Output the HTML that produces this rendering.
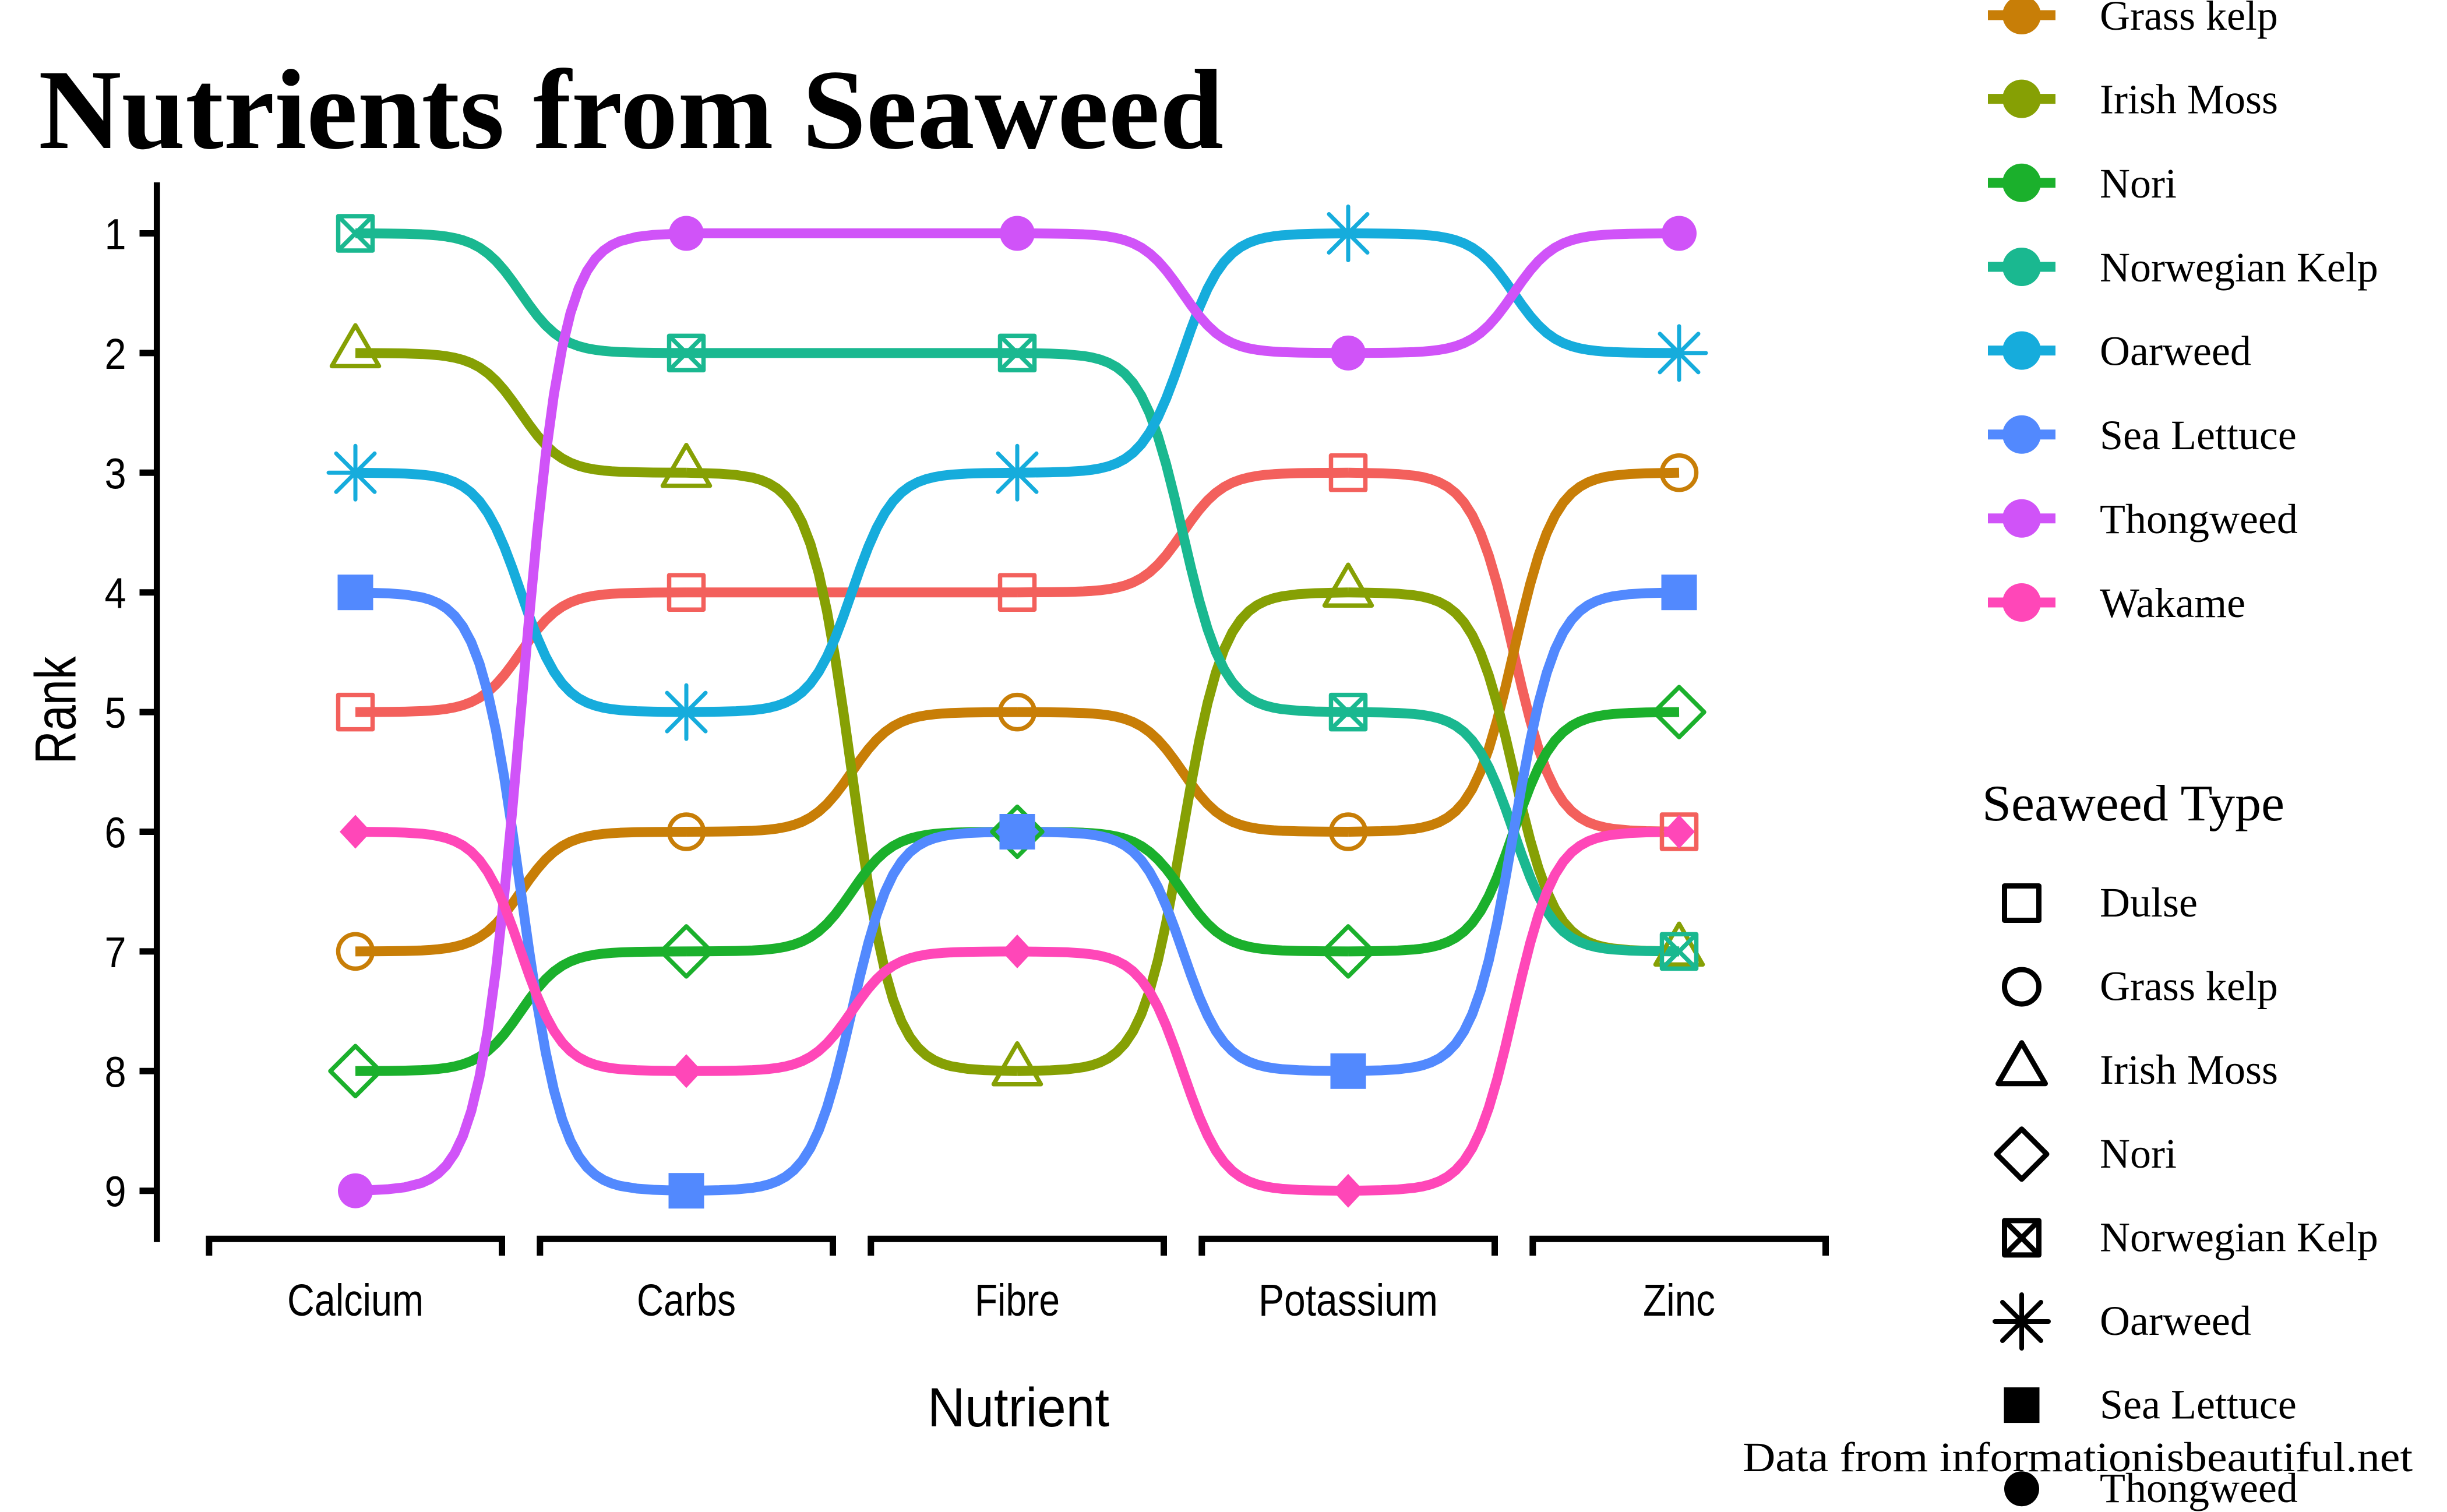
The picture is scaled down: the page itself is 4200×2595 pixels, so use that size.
<!DOCTYPE html>
<html><head><meta charset="utf-8"><style>
html,body{margin:0;padding:0;background:#fff}
svg{display:block}
.s{fill:none;stroke-width:17;vector-effect:non-scaling-stroke;stroke-linejoin:round;stroke-linecap:butt}
.t{font-family:"Liberation Sans",sans-serif;fill:#000}
.r{font-family:"Liberation Serif",serif;fill:#000}
</style></head><body>
<svg width="4200" height="2595" viewBox="0 0 4200 2595" xmlns="http://www.w3.org/2000/svg">
<rect width="4200" height="2595" fill="#fff"/>
<defs>
<g id="m0"><rect x="-29.5" y="-29.5" width="59" height="59" fill="none" stroke-linejoin="round"/></g>
<g id="m1"><circle r="29.5" fill="none"/></g>
<g id="m2"><path d="M0,-47.5L40.5,22.5L-40.5,22.5Z" fill="none" stroke-linejoin="round"/></g>
<g id="m5"><path d="M0,-43L43,0L0,43L-43,0Z" fill="none" stroke-linejoin="round"/></g>
<g id="m7"><rect x="-29.5" y="-29.5" width="59" height="59" fill="none" stroke-linejoin="round"/><path d="M-29.5,-29.5L29.5,29.5M29.5,-29.5L-29.5,29.5" fill="none"/></g>
<g id="m8"><path d="M0,-46V46M-46,0H46M-33,-33L33,33M33,-33L-33,33" fill="none" stroke-linecap="round"/></g>
<g id="m15"><rect x="-30.5" y="-30.5" width="61" height="61" stroke="none"/></g>
<g id="m16"><circle r="30" stroke="none"/></g>
<g id="m18"><path d="M0,-29L27,0L0,29L-27,0Z" stroke="none"/></g>
</defs>

<!-- Title -->
<text class="r" x="66" y="254" font-weight="bold" font-size="196" textLength="2034" lengthAdjust="spacingAndGlyphs">Nutrients from Seaweed</text>

<!-- Y axis -->
<g stroke="#000" fill="none">
<path d="M269.3,313V2131.7" stroke-width="10.7"/>
<path d="M239.5,400.5H269M239.5,605.9H269M239.5,811.3H269M239.5,1016.7H269M239.5,1222.1H269M239.5,1427.5H269M239.5,1632.9H269M239.5,1838.3H269M239.5,2043.7H269" stroke-width="11"/>
<path d="M358.8,2155V2126.2H861.5V2155M926.8,2155V2126.2H1429.5V2155M1494.8,2155V2126.2H1997.5V2155M2062.8,2155V2126.2H2565.5V2155M2630.8,2155V2126.2H3133.5V2155" stroke-width="11" stroke-linejoin="miter"/>
</g>
<g transform="translate(198,0) scale(0.9,1)" class="t" font-size="74" text-anchor="middle">
<text x="0" y="427.5">1</text><text x="0" y="632.9">2</text><text x="0" y="838.3">3</text>
<text x="0" y="1043.7">4</text><text x="0" y="1249.1">5</text><text x="0" y="1454.5">6</text>
<text x="0" y="1659.9">7</text><text x="0" y="1865.3">8</text><text x="0" y="2070.7">9</text>
</g>
<text class="t" transform="translate(129.3,1219) rotate(-90)" x="-92.5" y="0" font-size="99" textLength="185" lengthAdjust="spacingAndGlyphs">Rank</text>

<!-- X labels -->
<g class="t" font-size="77">
<text x="493" y="2258" textLength="234" lengthAdjust="spacingAndGlyphs">Calcium</text>
<text x="1093" y="2258" textLength="170" lengthAdjust="spacingAndGlyphs">Carbs</text>
<text x="1673" y="2258" textLength="146" lengthAdjust="spacingAndGlyphs">Fibre</text>
<text x="2160" y="2258" textLength="308" lengthAdjust="spacingAndGlyphs">Potassium</text>
<text x="2820" y="2258" textLength="124" lengthAdjust="spacingAndGlyphs">Zinc</text>
</g>
<text class="t" x="1592" y="2448" font-size="95" textLength="312" lengthAdjust="spacingAndGlyphs">Nutrient</text>

<!-- Lines -->
<g stroke="#F3605C">
<path class="s" transform="translate(610,1222.1) scale(1,-205.4)" d="M0,0L28.4,.00075L56.8,.00166L85.2,.00368L113.6,.00816L127.8,.01213L142,.018L156.2,.0266L170.4,.0392L184.6,.05734L198.8,.0832L213,.1192L227.2,.168L241.4,.2315L255.6,.31L269.8,.4013L284,.5L298.2,.5987L312.4,.69L326.6,.7685L340.8,.832L355,.8808L369.2,.9168L383.4,.94266L397.6,.9608L411.8,.9734L426,.982L440.2,.98787L454.4,.99184L482.8,.99632L511.2,.99834L539.6,.99925L568,1"/>
<path class="s" d="M1178,1016.7H1746"/>
<path class="s" transform="translate(1746,1016.7) scale(1,-205.4)" d="M0,0L28.4,.00075L56.8,.00166L85.2,.00368L113.6,.00816L127.8,.01213L142,.018L156.2,.0266L170.4,.0392L184.6,.05734L198.8,.0832L213,.1192L227.2,.168L241.4,.2315L255.6,.31L269.8,.4013L284,.5L298.2,.5987L312.4,.69L326.6,.7685L340.8,.832L355,.8808L369.2,.9168L383.4,.94266L397.6,.9608L411.8,.9734L426,.982L440.2,.98787L454.4,.99184L482.8,.99632L511.2,.99834L539.6,.99925L568,1"/>
<path class="s" transform="translate(2314,811.3) scale(1,616.2)" d="M0,0L28.4,.00075L56.8,.00166L85.2,.00368L113.6,.00816L127.8,.01213L142,.018L156.2,.0266L170.4,.0392L184.6,.05734L198.8,.0832L213,.1192L227.2,.168L241.4,.2315L255.6,.31L269.8,.4013L284,.5L298.2,.5987L312.4,.69L326.6,.7685L340.8,.832L355,.8808L369.2,.9168L383.4,.94266L397.6,.9608L411.8,.9734L426,.982L440.2,.98787L454.4,.99184L482.8,.99632L511.2,.99834L539.6,.99925L568,1"/>
</g>
<g stroke="#C87E07">
<path class="s" transform="translate(610,1632.9) scale(1,-205.4)" d="M0,0L28.4,.00075L56.8,.00166L85.2,.00368L113.6,.00816L127.8,.01213L142,.018L156.2,.0266L170.4,.0392L184.6,.05734L198.8,.0832L213,.1192L227.2,.168L241.4,.2315L255.6,.31L269.8,.4013L284,.5L298.2,.5987L312.4,.69L326.6,.7685L340.8,.832L355,.8808L369.2,.9168L383.4,.94266L397.6,.9608L411.8,.9734L426,.982L440.2,.98787L454.4,.99184L482.8,.99632L511.2,.99834L539.6,.99925L568,1"/>
<path class="s" transform="translate(1178,1427.5) scale(1,-205.4)" d="M0,0L28.4,.00075L56.8,.00166L85.2,.00368L113.6,.00816L127.8,.01213L142,.018L156.2,.0266L170.4,.0392L184.6,.05734L198.8,.0832L213,.1192L227.2,.168L241.4,.2315L255.6,.31L269.8,.4013L284,.5L298.2,.5987L312.4,.69L326.6,.7685L340.8,.832L355,.8808L369.2,.9168L383.4,.94266L397.6,.9608L411.8,.9734L426,.982L440.2,.98787L454.4,.99184L482.8,.99632L511.2,.99834L539.6,.99925L568,1"/>
<path class="s" transform="translate(1746,1222.1) scale(1,205.4)" d="M0,0L28.4,.00075L56.8,.00166L85.2,.00368L113.6,.00816L127.8,.01213L142,.018L156.2,.0266L170.4,.0392L184.6,.05734L198.8,.0832L213,.1192L227.2,.168L241.4,.2315L255.6,.31L269.8,.4013L284,.5L298.2,.5987L312.4,.69L326.6,.7685L340.8,.832L355,.8808L369.2,.9168L383.4,.94266L397.6,.9608L411.8,.9734L426,.982L440.2,.98787L454.4,.99184L482.8,.99632L511.2,.99834L539.6,.99925L568,1"/>
<path class="s" transform="translate(2314,1427.5) scale(1,-616.2)" d="M0,0L28.4,.00075L56.8,.00166L85.2,.00368L113.6,.00816L127.8,.01213L142,.018L156.2,.0266L170.4,.0392L184.6,.05734L198.8,.0832L213,.1192L227.2,.168L241.4,.2315L255.6,.31L269.8,.4013L284,.5L298.2,.5987L312.4,.69L326.6,.7685L340.8,.832L355,.8808L369.2,.9168L383.4,.94266L397.6,.9608L411.8,.9734L426,.982L440.2,.98787L454.4,.99184L482.8,.99632L511.2,.99834L539.6,.99925L568,1"/>
</g>
<g stroke="#86A004">
<path class="s" transform="translate(610,605.9) scale(1,205.4)" d="M0,0L28.4,.00075L56.8,.00166L85.2,.00368L113.6,.00816L127.8,.01213L142,.018L156.2,.0266L170.4,.0392L184.6,.05734L198.8,.0832L213,.1192L227.2,.168L241.4,.2315L255.6,.31L269.8,.4013L284,.5L298.2,.5987L312.4,.69L326.6,.7685L340.8,.832L355,.8808L369.2,.9168L383.4,.94266L397.6,.9608L411.8,.9734L426,.982L440.2,.98787L454.4,.99184L482.8,.99632L511.2,.99834L539.6,.99925L568,1"/>
<path class="s" transform="translate(1178,811.3) scale(1,1027)" d="M0,0L28.4,.00075L56.8,.00166L85.2,.00368L113.6,.00816L127.8,.01213L142,.018L156.2,.0266L170.4,.0392L184.6,.05734L198.8,.0832L213,.1192L227.2,.168L241.4,.2315L255.6,.31L269.8,.4013L284,.5L298.2,.5987L312.4,.69L326.6,.7685L340.8,.832L355,.8808L369.2,.9168L383.4,.94266L397.6,.9608L411.8,.9734L426,.982L440.2,.98787L454.4,.99184L482.8,.99632L511.2,.99834L539.6,.99925L568,1"/>
<path class="s" transform="translate(1746,1838.3) scale(1,-821.6)" d="M0,0L28.4,.00075L56.8,.00166L85.2,.00368L113.6,.00816L127.8,.01213L142,.018L156.2,.0266L170.4,.0392L184.6,.05734L198.8,.0832L213,.1192L227.2,.168L241.4,.2315L255.6,.31L269.8,.4013L284,.5L298.2,.5987L312.4,.69L326.6,.7685L340.8,.832L355,.8808L369.2,.9168L383.4,.94266L397.6,.9608L411.8,.9734L426,.982L440.2,.98787L454.4,.99184L482.8,.99632L511.2,.99834L539.6,.99925L568,1"/>
<path class="s" transform="translate(2314,1016.7) scale(1,616.2)" d="M0,0L28.4,.00075L56.8,.00166L85.2,.00368L113.6,.00816L127.8,.01213L142,.018L156.2,.0266L170.4,.0392L184.6,.05734L198.8,.0832L213,.1192L227.2,.168L241.4,.2315L255.6,.31L269.8,.4013L284,.5L298.2,.5987L312.4,.69L326.6,.7685L340.8,.832L355,.8808L369.2,.9168L383.4,.94266L397.6,.9608L411.8,.9734L426,.982L440.2,.98787L454.4,.99184L482.8,.99632L511.2,.99834L539.6,.99925L568,1"/>
</g>
<g stroke="#1BB02C">
<path class="s" transform="translate(610,1838.3) scale(1,-205.4)" d="M0,0L28.4,.00075L56.8,.00166L85.2,.00368L113.6,.00816L127.8,.01213L142,.018L156.2,.0266L170.4,.0392L184.6,.05734L198.8,.0832L213,.1192L227.2,.168L241.4,.2315L255.6,.31L269.8,.4013L284,.5L298.2,.5987L312.4,.69L326.6,.7685L340.8,.832L355,.8808L369.2,.9168L383.4,.94266L397.6,.9608L411.8,.9734L426,.982L440.2,.98787L454.4,.99184L482.8,.99632L511.2,.99834L539.6,.99925L568,1"/>
<path class="s" transform="translate(1178,1632.9) scale(1,-205.4)" d="M0,0L28.4,.00075L56.8,.00166L85.2,.00368L113.6,.00816L127.8,.01213L142,.018L156.2,.0266L170.4,.0392L184.6,.05734L198.8,.0832L213,.1192L227.2,.168L241.4,.2315L255.6,.31L269.8,.4013L284,.5L298.2,.5987L312.4,.69L326.6,.7685L340.8,.832L355,.8808L369.2,.9168L383.4,.94266L397.6,.9608L411.8,.9734L426,.982L440.2,.98787L454.4,.99184L482.8,.99632L511.2,.99834L539.6,.99925L568,1"/>
<path class="s" transform="translate(1746,1427.5) scale(1,205.4)" d="M0,0L28.4,.00075L56.8,.00166L85.2,.00368L113.6,.00816L127.8,.01213L142,.018L156.2,.0266L170.4,.0392L184.6,.05734L198.8,.0832L213,.1192L227.2,.168L241.4,.2315L255.6,.31L269.8,.4013L284,.5L298.2,.5987L312.4,.69L326.6,.7685L340.8,.832L355,.8808L369.2,.9168L383.4,.94266L397.6,.9608L411.8,.9734L426,.982L440.2,.98787L454.4,.99184L482.8,.99632L511.2,.99834L539.6,.99925L568,1"/>
<path class="s" transform="translate(2314,1632.9) scale(1,-410.8)" d="M0,0L28.4,.00075L56.8,.00166L85.2,.00368L113.6,.00816L127.8,.01213L142,.018L156.2,.0266L170.4,.0392L184.6,.05734L198.8,.0832L213,.1192L227.2,.168L241.4,.2315L255.6,.31L269.8,.4013L284,.5L298.2,.5987L312.4,.69L326.6,.7685L340.8,.832L355,.8808L369.2,.9168L383.4,.94266L397.6,.9608L411.8,.9734L426,.982L440.2,.98787L454.4,.99184L482.8,.99632L511.2,.99834L539.6,.99925L568,1"/>
</g>
<g stroke="#1AB890">
<path class="s" transform="translate(610,400.5) scale(1,205.4)" d="M0,0L28.4,.00075L56.8,.00166L85.2,.00368L113.6,.00816L127.8,.01213L142,.018L156.2,.0266L170.4,.0392L184.6,.05734L198.8,.0832L213,.1192L227.2,.168L241.4,.2315L255.6,.31L269.8,.4013L284,.5L298.2,.5987L312.4,.69L326.6,.7685L340.8,.832L355,.8808L369.2,.9168L383.4,.94266L397.6,.9608L411.8,.9734L426,.982L440.2,.98787L454.4,.99184L482.8,.99632L511.2,.99834L539.6,.99925L568,1"/>
<path class="s" d="M1178,605.9H1746"/>
<path class="s" transform="translate(1746,605.9) scale(1,616.2)" d="M0,0L28.4,.00075L56.8,.00166L85.2,.00368L113.6,.00816L127.8,.01213L142,.018L156.2,.0266L170.4,.0392L184.6,.05734L198.8,.0832L213,.1192L227.2,.168L241.4,.2315L255.6,.31L269.8,.4013L284,.5L298.2,.5987L312.4,.69L326.6,.7685L340.8,.832L355,.8808L369.2,.9168L383.4,.94266L397.6,.9608L411.8,.9734L426,.982L440.2,.98787L454.4,.99184L482.8,.99632L511.2,.99834L539.6,.99925L568,1"/>
<path class="s" transform="translate(2314,1222.1) scale(1,410.8)" d="M0,0L28.4,.00075L56.8,.00166L85.2,.00368L113.6,.00816L127.8,.01213L142,.018L156.2,.0266L170.4,.0392L184.6,.05734L198.8,.0832L213,.1192L227.2,.168L241.4,.2315L255.6,.31L269.8,.4013L284,.5L298.2,.5987L312.4,.69L326.6,.7685L340.8,.832L355,.8808L369.2,.9168L383.4,.94266L397.6,.9608L411.8,.9734L426,.982L440.2,.98787L454.4,.99184L482.8,.99632L511.2,.99834L539.6,.99925L568,1"/>
</g>
<g stroke="#16ACDC">
<path class="s" transform="translate(610,811.3) scale(1,410.8)" d="M0,0L28.4,.00075L56.8,.00166L85.2,.00368L113.6,.00816L127.8,.01213L142,.018L156.2,.0266L170.4,.0392L184.6,.05734L198.8,.0832L213,.1192L227.2,.168L241.4,.2315L255.6,.31L269.8,.4013L284,.5L298.2,.5987L312.4,.69L326.6,.7685L340.8,.832L355,.8808L369.2,.9168L383.4,.94266L397.6,.9608L411.8,.9734L426,.982L440.2,.98787L454.4,.99184L482.8,.99632L511.2,.99834L539.6,.99925L568,1"/>
<path class="s" transform="translate(1178,1222.1) scale(1,-410.8)" d="M0,0L28.4,.00075L56.8,.00166L85.2,.00368L113.6,.00816L127.8,.01213L142,.018L156.2,.0266L170.4,.0392L184.6,.05734L198.8,.0832L213,.1192L227.2,.168L241.4,.2315L255.6,.31L269.8,.4013L284,.5L298.2,.5987L312.4,.69L326.6,.7685L340.8,.832L355,.8808L369.2,.9168L383.4,.94266L397.6,.9608L411.8,.9734L426,.982L440.2,.98787L454.4,.99184L482.8,.99632L511.2,.99834L539.6,.99925L568,1"/>
<path class="s" transform="translate(1746,811.3) scale(1,-410.8)" d="M0,0L28.4,.00075L56.8,.00166L85.2,.00368L113.6,.00816L127.8,.01213L142,.018L156.2,.0266L170.4,.0392L184.6,.05734L198.8,.0832L213,.1192L227.2,.168L241.4,.2315L255.6,.31L269.8,.4013L284,.5L298.2,.5987L312.4,.69L326.6,.7685L340.8,.832L355,.8808L369.2,.9168L383.4,.94266L397.6,.9608L411.8,.9734L426,.982L440.2,.98787L454.4,.99184L482.8,.99632L511.2,.99834L539.6,.99925L568,1"/>
<path class="s" transform="translate(2314,400.5) scale(1,205.4)" d="M0,0L28.4,.00075L56.8,.00166L85.2,.00368L113.6,.00816L127.8,.01213L142,.018L156.2,.0266L170.4,.0392L184.6,.05734L198.8,.0832L213,.1192L227.2,.168L241.4,.2315L255.6,.31L269.8,.4013L284,.5L298.2,.5987L312.4,.69L326.6,.7685L340.8,.832L355,.8808L369.2,.9168L383.4,.94266L397.6,.9608L411.8,.9734L426,.982L440.2,.98787L454.4,.99184L482.8,.99632L511.2,.99834L539.6,.99925L568,1"/>
</g>
<g stroke="#5289FE">
<path class="s" transform="translate(610,1016.7) scale(1,1027)" d="M0,0L28.4,.00075L56.8,.00166L85.2,.00368L113.6,.00816L127.8,.01213L142,.018L156.2,.0266L170.4,.0392L184.6,.05734L198.8,.0832L213,.1192L227.2,.168L241.4,.2315L255.6,.31L269.8,.4013L284,.5L298.2,.5987L312.4,.69L326.6,.7685L340.8,.832L355,.8808L369.2,.9168L383.4,.94266L397.6,.9608L411.8,.9734L426,.982L440.2,.98787L454.4,.99184L482.8,.99632L511.2,.99834L539.6,.99925L568,1"/>
<path class="s" transform="translate(1178,2043.7) scale(1,-616.2)" d="M0,0L28.4,.00075L56.8,.00166L85.2,.00368L113.6,.00816L127.8,.01213L142,.018L156.2,.0266L170.4,.0392L184.6,.05734L198.8,.0832L213,.1192L227.2,.168L241.4,.2315L255.6,.31L269.8,.4013L284,.5L298.2,.5987L312.4,.69L326.6,.7685L340.8,.832L355,.8808L369.2,.9168L383.4,.94266L397.6,.9608L411.8,.9734L426,.982L440.2,.98787L454.4,.99184L482.8,.99632L511.2,.99834L539.6,.99925L568,1"/>
<path class="s" transform="translate(1746,1427.5) scale(1,410.8)" d="M0,0L28.4,.00075L56.8,.00166L85.2,.00368L113.6,.00816L127.8,.01213L142,.018L156.2,.0266L170.4,.0392L184.6,.05734L198.8,.0832L213,.1192L227.2,.168L241.4,.2315L255.6,.31L269.8,.4013L284,.5L298.2,.5987L312.4,.69L326.6,.7685L340.8,.832L355,.8808L369.2,.9168L383.4,.94266L397.6,.9608L411.8,.9734L426,.982L440.2,.98787L454.4,.99184L482.8,.99632L511.2,.99834L539.6,.99925L568,1"/>
<path class="s" transform="translate(2314,1838.3) scale(1,-821.6)" d="M0,0L28.4,.00075L56.8,.00166L85.2,.00368L113.6,.00816L127.8,.01213L142,.018L156.2,.0266L170.4,.0392L184.6,.05734L198.8,.0832L213,.1192L227.2,.168L241.4,.2315L255.6,.31L269.8,.4013L284,.5L298.2,.5987L312.4,.69L326.6,.7685L340.8,.832L355,.8808L369.2,.9168L383.4,.94266L397.6,.9608L411.8,.9734L426,.982L440.2,.98787L454.4,.99184L482.8,.99632L511.2,.99834L539.6,.99925L568,1"/>
</g>
<g stroke="#D053F8">
<path class="s" transform="translate(610,2043.7) scale(1,-1643.2)" d="M0,0L28.4,.00075L56.8,.00166L85.2,.00368L113.6,.00816L127.8,.01213L142,.018L156.2,.0266L170.4,.0392L184.6,.05734L198.8,.0832L213,.1192L227.2,.168L241.4,.2315L255.6,.31L269.8,.4013L284,.5L298.2,.5987L312.4,.69L326.6,.7685L340.8,.832L355,.8808L369.2,.9168L383.4,.94266L397.6,.9608L411.8,.9734L426,.982L440.2,.98787L454.4,.99184L482.8,.99632L511.2,.99834L539.6,.99925L568,1"/>
<path class="s" d="M1178,400.5H1746"/>
<path class="s" transform="translate(1746,400.5) scale(1,205.4)" d="M0,0L28.4,.00075L56.8,.00166L85.2,.00368L113.6,.00816L127.8,.01213L142,.018L156.2,.0266L170.4,.0392L184.6,.05734L198.8,.0832L213,.1192L227.2,.168L241.4,.2315L255.6,.31L269.8,.4013L284,.5L298.2,.5987L312.4,.69L326.6,.7685L340.8,.832L355,.8808L369.2,.9168L383.4,.94266L397.6,.9608L411.8,.9734L426,.982L440.2,.98787L454.4,.99184L482.8,.99632L511.2,.99834L539.6,.99925L568,1"/>
<path class="s" transform="translate(2314,605.9) scale(1,-205.4)" d="M0,0L28.4,.00075L56.8,.00166L85.2,.00368L113.6,.00816L127.8,.01213L142,.018L156.2,.0266L170.4,.0392L184.6,.05734L198.8,.0832L213,.1192L227.2,.168L241.4,.2315L255.6,.31L269.8,.4013L284,.5L298.2,.5987L312.4,.69L326.6,.7685L340.8,.832L355,.8808L369.2,.9168L383.4,.94266L397.6,.9608L411.8,.9734L426,.982L440.2,.98787L454.4,.99184L482.8,.99632L511.2,.99834L539.6,.99925L568,1"/>
</g>
<g stroke="#FF47B8">
<path class="s" transform="translate(610,1427.5) scale(1,410.8)" d="M0,0L28.4,.00075L56.8,.00166L85.2,.00368L113.6,.00816L127.8,.01213L142,.018L156.2,.0266L170.4,.0392L184.6,.05734L198.8,.0832L213,.1192L227.2,.168L241.4,.2315L255.6,.31L269.8,.4013L284,.5L298.2,.5987L312.4,.69L326.6,.7685L340.8,.832L355,.8808L369.2,.9168L383.4,.94266L397.6,.9608L411.8,.9734L426,.982L440.2,.98787L454.4,.99184L482.8,.99632L511.2,.99834L539.6,.99925L568,1"/>
<path class="s" transform="translate(1178,1838.3) scale(1,-205.4)" d="M0,0L28.4,.00075L56.8,.00166L85.2,.00368L113.6,.00816L127.8,.01213L142,.018L156.2,.0266L170.4,.0392L184.6,.05734L198.8,.0832L213,.1192L227.2,.168L241.4,.2315L255.6,.31L269.8,.4013L284,.5L298.2,.5987L312.4,.69L326.6,.7685L340.8,.832L355,.8808L369.2,.9168L383.4,.94266L397.6,.9608L411.8,.9734L426,.982L440.2,.98787L454.4,.99184L482.8,.99632L511.2,.99834L539.6,.99925L568,1"/>
<path class="s" transform="translate(1746,1632.9) scale(1,410.8)" d="M0,0L28.4,.00075L56.8,.00166L85.2,.00368L113.6,.00816L127.8,.01213L142,.018L156.2,.0266L170.4,.0392L184.6,.05734L198.8,.0832L213,.1192L227.2,.168L241.4,.2315L255.6,.31L269.8,.4013L284,.5L298.2,.5987L312.4,.69L326.6,.7685L340.8,.832L355,.8808L369.2,.9168L383.4,.94266L397.6,.9608L411.8,.9734L426,.982L440.2,.98787L454.4,.99184L482.8,.99632L511.2,.99834L539.6,.99925L568,1"/>
<path class="s" transform="translate(2314,2043.7) scale(1,-616.2)" d="M0,0L28.4,.00075L56.8,.00166L85.2,.00368L113.6,.00816L127.8,.01213L142,.018L156.2,.0266L170.4,.0392L184.6,.05734L198.8,.0832L213,.1192L227.2,.168L241.4,.2315L255.6,.31L269.8,.4013L284,.5L298.2,.5987L312.4,.69L326.6,.7685L340.8,.832L355,.8808L369.2,.9168L383.4,.94266L397.6,.9608L411.8,.9734L426,.982L440.2,.98787L454.4,.99184L482.8,.99632L511.2,.99834L539.6,.99925L568,1"/>
</g>

<!-- Points -->
<g stroke-width="7.5">
<g stroke="#F3605C"><use href="#m0" x="610" y="1222.1"/><use href="#m0" x="1178" y="1016.7"/><use href="#m0" x="1746" y="1016.7"/><use href="#m0" x="2314" y="811.3"/><use href="#m0" x="2882" y="1427.5"/></g>
<g stroke="#C87E07"><use href="#m1" x="610" y="1632.9"/><use href="#m1" x="1178" y="1427.5"/><use href="#m1" x="1746" y="1222.1"/><use href="#m1" x="2314" y="1427.5"/><use href="#m1" x="2882" y="811.3"/></g>
<g stroke="#86A004"><use href="#m2" x="610" y="605.9"/><use href="#m2" x="1178" y="811.3"/><use href="#m2" x="1746" y="1838.3"/><use href="#m2" x="2314" y="1016.7"/><use href="#m2" x="2882" y="1632.9"/></g>
<g stroke="#1BB02C"><use href="#m5" x="610" y="1838.3"/><use href="#m5" x="1178" y="1632.9"/><use href="#m5" x="1746" y="1427.5"/><use href="#m5" x="2314" y="1632.9"/><use href="#m5" x="2882" y="1222.1"/></g>
<g stroke="#1AB890"><use href="#m7" x="610" y="400.5"/><use href="#m7" x="1178" y="605.9"/><use href="#m7" x="1746" y="605.9"/><use href="#m7" x="2314" y="1222.1"/><use href="#m7" x="2882" y="1632.9"/></g>
<g stroke="#16ACDC" stroke-width="7"><use href="#m8" x="610" y="811.3"/><use href="#m8" x="1178" y="1222.1"/><use href="#m8" x="1746" y="811.3"/><use href="#m8" x="2314" y="400.5"/><use href="#m8" x="2882" y="605.9"/></g>
<g fill="#5289FE"><use href="#m15" x="610" y="1016.7"/><use href="#m15" x="1178" y="2043.7"/><use href="#m15" x="1746" y="1427.5"/><use href="#m15" x="2314" y="1838.3"/><use href="#m15" x="2882" y="1016.7"/></g>
<g fill="#D053F8"><use href="#m16" x="610" y="2043.7"/><use href="#m16" x="1178" y="400.5"/><use href="#m16" x="1746" y="400.5"/><use href="#m16" x="2314" y="605.9"/><use href="#m16" x="2882" y="400.5"/></g>
<g fill="#FF47B8"><use href="#m18" x="610" y="1427.5"/><use href="#m18" x="1178" y="1838.3"/><use href="#m18" x="1746" y="1632.9"/><use href="#m18" x="2314" y="2043.7"/><use href="#m18" x="2882" y="1427.5"/></g>
</g>

<!-- Legend 1 (colour) -->
<g stroke-width="17">
<path d="M3412,26H3528" stroke="#C87E07"/><circle cx="3470" cy="26" r="33" fill="#C87E07"/>
<path d="M3412,169.6H3528" stroke="#86A004"/><circle cx="3470" cy="169.6" r="33" fill="#86A004"/>
<path d="M3412,313.8H3528" stroke="#1BB02C"/><circle cx="3470" cy="313.8" r="33" fill="#1BB02C"/>
<path d="M3412,458H3528" stroke="#1AB890"/><circle cx="3470" cy="458" r="33" fill="#1AB890"/>
<path d="M3412,601.6H3528" stroke="#16ACDC"/><circle cx="3470" cy="601.6" r="33" fill="#16ACDC"/>
<path d="M3412,745.8H3528" stroke="#5289FE"/><circle cx="3470" cy="745.8" r="33" fill="#5289FE"/>
<path d="M3412,889.8H3528" stroke="#D053F8"/><circle cx="3470" cy="889.8" r="33" fill="#D053F8"/>
<path d="M3412,1034H3528" stroke="#FF47B8"/><circle cx="3470" cy="1034" r="33" fill="#FF47B8"/>
</g>
<g class="r" font-size="72">
<text x="3604" y="51">Grass kelp</text>
<text x="3604" y="194.6">Irish Moss</text>
<text x="3604" y="338.8">Nori</text>
<text x="3604" y="483">Norwegian Kelp</text>
<text x="3604" y="626.6">Oarweed</text>
<text x="3604" y="770.8">Sea Lettuce</text>
<text x="3604" y="914.8">Thongweed</text>
<text x="3604" y="1059">Wakame</text>
</g>

<!-- Legend 2 (shape) -->
<text class="r" x="3402" y="1408" font-size="88" textLength="519" lengthAdjust="spacingAndGlyphs">Seaweed Type</text>
<g stroke="#000" stroke-width="9">
<use href="#m0" x="3470" y="1550"/>
<use href="#m1" x="3470" y="1693.6"/>
<use href="#m2" x="3470" y="1837.2"/>
<use href="#m5" x="3470" y="1980.8"/>
<use href="#m7" x="3470" y="2124.4"/>
<use href="#m8" x="3470" y="2268" stroke-width="8"/>
</g>
<g fill="#000">
<use href="#m15" x="3470" y="2411.6"/>
<use href="#m16" x="3470" y="2555.2"/>
</g>
<g class="r" font-size="72">
<text x="3604" y="1573">Dulse</text>
<text x="3604" y="1716.6">Grass kelp</text>
<text x="3604" y="1860.2">Irish Moss</text>
<text x="3604" y="2003.8">Nori</text>
<text x="3604" y="2147.4">Norwegian Kelp</text>
<text x="3604" y="2291">Oarweed</text>
<text x="3604" y="2434.6">Sea Lettuce</text>
<text x="3604" y="2578.2">Thongweed</text>
</g>

<!-- Caption -->
<text class="r" x="2991" y="2525" font-size="72" textLength="1150" lengthAdjust="spacingAndGlyphs">Data from informationisbeautiful.net</text>
</svg>
</body></html>
